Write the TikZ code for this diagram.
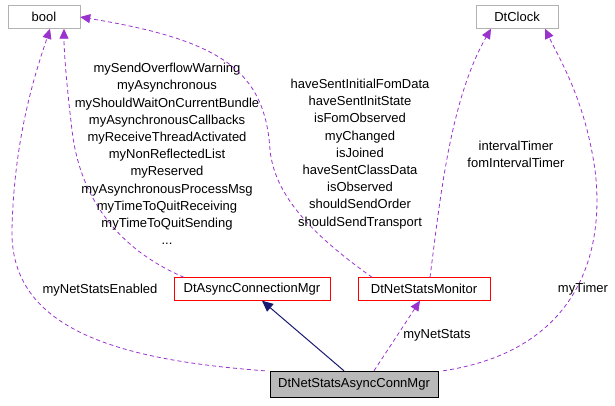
\documentclass[tikz,border=0pt]{standalone}
\usepackage{fontspec}
\setmainfont{Liberation Sans}
\usetikzlibrary{arrows.meta}
\definecolor{dep}{RGB}{154,50,205}
\definecolor{inhc}{RGB}{25,25,112}
\begin{document}
\begin{tikzpicture}[x=1pt,y=-1pt,
  box/.style={draw=#1,minimum height=23pt,inner sep=2pt,font=\fontsize{13}{15}\selectfont},
  lbl/.style={font=\fontsize{13}{17.2}\selectfont,align=center,inner sep=0pt},
  dep/.style={draw=dep,line width=0.8pt,dash pattern=on 4pt off 3pt,-{Triangle[length=10pt,width=9pt,fill=dep]}},
  inh/.style={draw=inhc,line width=1pt,-{Triangle[length=11pt,width=10pt,fill=inhc]}}]
\useasboundingbox (0,0) rectangle (615,405);
\node[box=gray!60,minimum width=72pt] (bool) at (44,17) {bool};
\node[box=gray!60,minimum width=82pt] (clock) at (517,17) {DtClock};
\node[box=red,minimum width=156pt] (acm) at (252,289) {DtAsyncConnectionMgr};
\node[box=red,minimum width=132pt] (nsm) at (424,289) {DtNetStatsMonitor};
\node[box=black,fill=gray!55,minimum width=168pt,minimum height=26pt] (main) at (354,384) {DtNetStatsAsyncConnMgr};
\draw[inh] ([xshift=-10pt]main.north) -- ([xshift=10pt]acm.south);
\draw[dep] ([xshift=20pt]main.north) -- ([xshift=-4pt]nsm.south) node[pos=0.5,right=6pt,lbl]{myNetStats};
\draw[dep] ([xshift=-5pt]main.north west) .. controls (120,360) and (10,330) .. (12,230) .. controls (14,130) and (40,60) .. ([xshift=6pt]bool.south);
\node[lbl] (l1) at (100,290) {myNetStatsEnabled};
\draw[dep] ([xshift=5pt]main.north east) .. controls (580,350) and (605,250) .. (595,170) .. controls (585,100) and (560,60) .. ([xshift=28pt]clock.south);
\node[lbl] (l2) at (583,289) {myTimer};
\draw[dep] ([xshift=-68pt]acm.north) .. controls (120,250) and (80,200) .. (72,130) .. controls (66,80) and (64,50) .. ([xshift=20pt]bool.south);
\node[lbl] (l3) at (167,154) {mySendOverflowWarning\\myAsynchronous\\myShouldWaitOnCurrentBundle\\myAsynchronousCallbacks\\myReceiveThreadActivated\\myNonReflectedList\\myReserved\\myAsynchronousProcessMsg\\myTimeToQuitReceiving\\myTimeToQuitSending\\...};
\draw[dep] ([xshift=-52pt]nsm.north) .. controls (320,240) and (275,200) .. (270,150) .. controls (265,70) and (220,40) .. (bool.east);
\node[lbl] (l4) at (360,154) {haveSentInitialFomData\\haveSentInitState\\isFomObserved\\myChanged\\isJoined\\haveSentClassData\\isObserved\\shouldSendOrder\\shouldSendTransport};
\draw[dep] ([xshift=6pt]nsm.north) .. controls (440,200) and (450,100) .. ([xshift=-26pt]clock.south);
\node[lbl] (l5) at (516,154) {intervalTimer\\fomIntervalTimer};
\end{tikzpicture}
\end{document}
